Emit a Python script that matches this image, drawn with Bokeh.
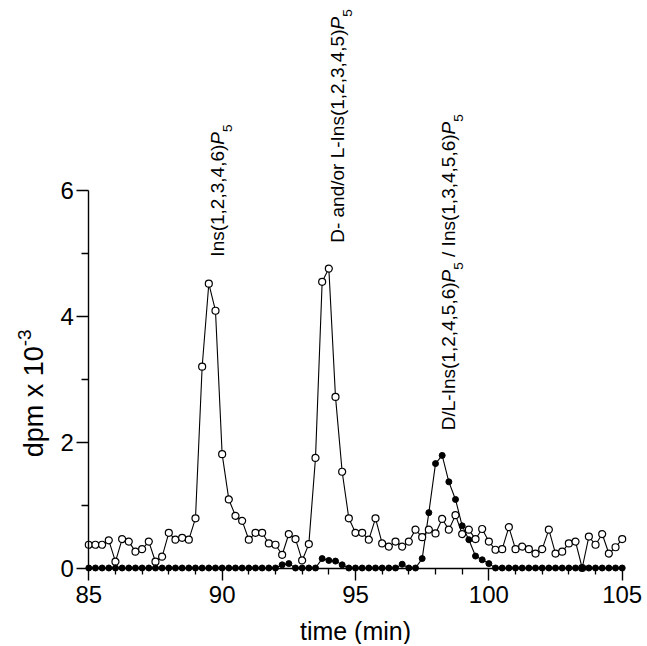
import math
from bokeh.plotting import figure
from bokeh.models import ColumnDataSource, LinearAxis, FixedTicker, Range1d
from bokeh.embed import file_html
from bokeh.resources import INLINE
from bokeh.core.properties import value

# ---------------- data ----------------
minutes = [85 + 0.25 * i for i in range(81)]

open_dpm = [
    0.37, 0.37, 0.37, 0.44, 0.10, 0.46, 0.42, 0.26, 0.30, 0.42,   # 85.00 - 87.25
    0.10, 0.18, 0.56, 0.45, 0.48, 0.45, 0.79, 3.20, 4.52, 4.09,   # 87.50 - 89.75
    1.81, 1.09, 0.83, 0.75, 0.45, 0.56, 0.56, 0.39, 0.37, 0.21,   # 90.00 - 92.25
    0.54, 0.46, 0.12, 0.38, 1.75, 4.55, 4.76, 2.72, 1.53, 0.79,   # 92.50 - 94.75
    0.56, 0.56, 0.45, 0.79, 0.39, 0.34, 0.42, 0.34, 0.42, 0.61,   # 95.00 - 97.25
    0.49, 0.61, 0.55, 0.78, 0.61, 0.84, 0.54, 0.61, 0.46, 0.62,   # 97.50 - 99.75
    0.42, 0.29, 0.30, 0.65, 0.30, 0.34, 0.30, 0.23, 0.30, 0.61,   # 100.00 - 102.25
    0.23, 0.26, 0.39, 0.42, 0.00, 0.50, 0.37, 0.54, 0.23, 0.33,   # 102.50 - 104.75
    0.46,                                                         # 105.00
]

filled_dpm = [
    0.00, 0.00, 0.00, 0.00, 0.00, 0.00, 0.00, 0.00, 0.00, 0.00,   # 85.00 - 87.25
    0.00, 0.00, 0.00, 0.00, 0.00, 0.00, 0.00, 0.00, 0.00, 0.00,   # 87.50 - 89.75
    0.00, 0.00, 0.00, 0.00, 0.00, 0.00, 0.00, 0.00, 0.00, 0.05,   # 90.00 - 92.25
    0.07, 0.00, 0.00, 0.00, 0.00, 0.15, 0.12, 0.11, 0.05, 0.00,   # 92.50 - 94.75
    0.00, 0.00, 0.00, 0.00, 0.00, 0.00, 0.00, 0.06, 0.00, 0.00,   # 95.00 - 97.25
    0.15, 0.88, 1.66, 1.79, 1.37, 1.09, 0.67, 0.45, 0.19, 0.13,   # 97.50 - 99.75
    0.07, 0.00, 0.00, 0.00, 0.00, 0.00, 0.00, 0.00, 0.00, 0.00,   # 100.00 - 102.25
    0.00, 0.00, 0.00, 0.00, 0.00, 0.00, 0.00, 0.00, 0.00, 0.00,   # 102.50 - 104.75
    0.00,                                                         # 105.00
]

x_ticks = [85, 90, 95, 100, 105]
x_minor_ticks = [86, 87, 88, 89, 91, 92, 93, 94, 96, 97, 98, 99, 101, 102, 103, 104]
y_ticks = [0, 2, 4, 6]
y_minor_ticks = [1, 3, 5]

peak_labels = [
    [("Ins(1,2,3,4,6)", "normal"), ("P", "italic"), ("5", "sub")],
    [("D- and/or L-Ins(1,2,3,4,5)", "normal"), ("P", "italic"), ("5", "sub")],
    [("D/L-Ins(1,2,4,5,6)", "normal"), ("P", "italic"), ("5", "sub"), (" ", "gap"),
     ("/ Ins(1,3,4,5,6)", "normal"), ("P", "italic"), ("5", "sub")],
]
peak_label_x = [89.83, 94.31, 98.49]
peak_label_y = [4.95, 5.17, 2.19]

y_title = [("dpm x 10", "normal"), ("-3", "sup")]
y_title_x, y_title_y = 82.93, 1.76
x_title = "time (min)"

# ---------------- layout ----------------
W, H = 645, 644
PX_PER_MIN = 26.67
PX_PER_UNIT = 62.9
X85_PX = 88.3     # canvas px of x = 85
Y0_PX = 567.5     # canvas px (from top) of y = 0

x_start = 85 - X85_PX / PX_PER_MIN
x_end = 85 + (W - X85_PX) / PX_PER_MIN
y_end = Y0_PX / PX_PER_UNIT
y_start = -(H - Y0_PX) / PX_PER_UNIT

FONT = "Liberation Sans"

p = figure(width=W, height=H, x_range=Range1d(x_start, x_end), y_range=Range1d(y_start, y_end),
           output_backend="svg", toolbar_location=None, x_axis_type=None, y_axis_type=None,
           min_border=0)
p.outline_line_color = None
p.background_fill_color = "white"
p.border_fill_color = "white"


def style_axis(ax, major_out, minor_out, standoff):
    ax.axis_line_color = "black"
    ax.axis_line_width = 1.4
    ax.major_tick_line_color = "black"
    ax.major_tick_line_width = 1.4
    ax.minor_tick_line_color = "black"
    ax.minor_tick_line_width = 1.3
    ax.major_tick_in = 0
    ax.major_tick_out = major_out
    ax.minor_tick_in = 0
    ax.minor_tick_out = minor_out
    ax.major_label_text_font = FONT
    ax.major_label_text_font_size = "24px"
    ax.major_label_text_color = "black"
    ax.major_label_standoff = standoff


xaxis = LinearAxis(ticker=FixedTicker(ticks=x_ticks, minor_ticks=x_minor_ticks),
                   fixed_location=0, bounds=(85, 105))
style_axis(xaxis, 12, 6, 6)
p.add_layout(xaxis, "below")

yaxis = LinearAxis(ticker=FixedTicker(ticks=y_ticks, minor_ticks=y_minor_ticks),
                   fixed_location=85, bounds=(0, 6))
style_axis(yaxis, 12, 7, 3)
p.add_layout(yaxis, "left")

# ---------------- series ----------------
src = ColumnDataSource(dict(t=minutes, o=open_dpm, f=filled_dpm))
p.line("t", "o", source=src, line_color="black", line_width=1.1)
p.line("t", "f", source=src, line_color="black", line_width=1.1)
p.scatter("t", "o", source=src, marker="circle", size=7, fill_color="white",
          line_color="black", line_width=1.2)
p.scatter("t", "f", source=src, marker="circle", size=6, fill_color="black",
          line_color="black", line_width=1)

# ---------------- texts ----------------
ARIAL = {str(d): 0.556 for d in range(10)}
ARIAL.update({",": 0.278, "(": 0.333, ")": 0.333, " ": 0.278, "/": 0.278, "-": 0.333,
              "I": 0.278, "n": 0.556, "s": 0.5, "D": 0.722, "L": 0.556, "a": 0.556,
              "d": 0.556, "o": 0.556, "r": 0.333, "P": 0.667, "p": 0.556, "m": 0.833,
              "x": 0.5, "t": 0.278, "i": 0.222, "e": 0.556})


def text_width(s, size):
    return sum(ARIAL.get(c, 0.556) for c in s) * size


def rotated_parts(segments, x0, y0, base, small, shift_px):
    rows = {"normal": [], "italic": [], "sub": [], "sup": []}
    off = 0.0
    for txt, kind in segments:
        size = small if kind in ("sub", "sup") else base
        if kind != "gap":
            x = x0
            if kind == "sub":
                x = x0 + shift_px / PX_PER_MIN
            elif kind == "sup":
                x = x0 - shift_px / PX_PER_MIN
            rows[kind].append((x, y0 + off / PX_PER_UNIT, txt))
        off += text_width(txt, size)
    return rows


def draw_rows(rows, base, small):
    for kind, items in rows.items():
        if not items:
            continue
        xs = [r[0] for r in items]
        ys = [r[1] for r in items]
        ts = [r[2] for r in items]
        size = small if kind in ("sub", "sup") else base
        style = "italic" if kind == "italic" else "normal"
        p.text(x=xs, y=ys, text=ts, angle=math.pi / 2, text_align="left",
               text_baseline="alphabetic", text_font=value(FONT),
               text_font_size=value(f"{size}px"), text_font_style=style,
               text_color="black")


LBL, SUB = 19, 13.5
for segs, lx, ly in zip(peak_labels, peak_label_x, peak_label_y):
    draw_rows(rotated_parts(segs, lx, ly, LBL, SUB, 10), LBL, SUB)

# y axis title (rotated, with superscript)
YT, YS = 27, 19
draw_rows(rotated_parts(y_title, y_title_x, y_title_y, YT, YS, 9), YT, YS)

# x axis title
p.text(x=[95], y=[-1.0], text=[x_title], text_align="center", text_baseline="alphabetic",
       text_font=value(FONT), text_font_size=value("25px"), text_color="black")

open("out.html", "w").write(file_html(p, INLINE))
